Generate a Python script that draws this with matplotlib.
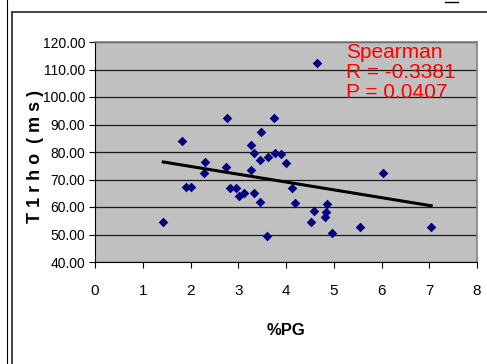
import numpy as np
import matplotlib.pyplot as plt
from matplotlib.patches import Rectangle
from matplotlib.lines import Line2D

# %PG vs T1rho (ms)
pg = [1.43, 1.83, 1.91, 2.01, 2.29, 2.30, 2.74, 2.76, 2.83, 2.95,
      3.02, 3.11, 3.27, 3.26, 3.32, 3.34, 3.46, 3.47, 3.46, 3.60,
      3.62, 3.74, 3.78, 3.89, 3.99, 4.12, 4.18, 4.52, 4.59, 4.64,
      4.81, 4.84, 4.85, 4.97, 5.56, 6.04, 7.04]
t1rho = [54.4, 84.1, 67.2, 67.2, 72.2, 76.4, 74.4, 92.2, 66.8, 66.8,
         64.0, 65.0, 73.4, 82.5, 65.2, 79.6, 77.1, 87.2, 62.0, 49.6,
         78.3, 92.2, 79.7, 79.2, 76.1, 66.8, 61.6, 54.5, 58.7, 112.5,
         56.5, 58.1, 61.1, 50.7, 52.9, 72.2, 52.9]
x_ticks = [0, 1, 2, 3, 4, 5, 6, 7, 8]
y_ticks = [40, 50, 60, 70, 80, 90, 100, 110, 120]
stats_text = "Spearman\nR = -0.3381\nP = 0.0407"

W, H = 487, 364
fig = plt.figure(figsize=(W / 100, H / 100), dpi=100)
ax = fig.add_axes([95 / W, 1 - 262 / H, 382 / W, 220 / H])

narrow = ['Liberation Sans Narrow', 'Liberation Sans', 'DejaVu Sans']

# outer chart frame (cut off by the image edge, like the screenshot)
fig.add_artist(Rectangle((12 / W, -0.2), 1.2, 1 - 12 / H + 0.2, transform=fig.transFigure,
                         fill=False, edgecolor='#333333', linewidth=1.3))
fig.add_artist(Line2D([7 / W, 7 / W], [0, 1], transform=fig.transFigure,
                      color='black', linewidth=0.8))
fig.add_artist(Line2D([445 / W, 458 / W], [1 - 2 / H, 1 - 2 / H], transform=fig.transFigure,
                      color='black', linewidth=1))

ax.set_facecolor('#C0C0C0')
for s in ax.spines.values():
    s.set_color('#808080')
    s.set_linewidth(1.2)
ax.spines['left'].set_color('black')
ax.spines['left'].set_linewidth(0.8)
ax.spines['bottom'].set_color('black')
ax.spines['bottom'].set_linewidth(0.8)

ax.set_xlim(0, 8)
ax.set_ylim(40, 120)
ax.set_xticks(x_ticks)
ax.set_yticks(y_ticks)
ax.set_xticklabels([str(v) for v in x_ticks], family=narrow, fontsize=11)
ax.set_yticklabels(['%.2f' % v for v in y_ticks], family=narrow, fontsize=10)
ax.tick_params(direction='out', length=4, width=0.8, color='black', pad=3)
ax.tick_params(axis='x', pad=12)
ax.yaxis.grid(True, color='#1a1a1a', linewidth=0.9)
ax.set_axisbelow(True)

ax.scatter(pg, t1rho, marker='D', s=24, color='#000080', zorder=3, linewidths=0)

# linear trend line over the data range
k, b = np.polyfit(pg, t1rho, 1)
xs = np.array([min(pg), max(pg)])
ax.plot(xs, k * xs + b, color='black', linewidth=2.2, zorder=4)

ax.text(0.657, 0.995, stats_text, transform=ax.transAxes, color='#FF0000',
        fontsize=15, family='Liberation Sans', va='top', ha='left', linespacing=1.08)

ax.set_xlabel('%PG', family=narrow, fontsize=12, fontweight='bold', labelpad=18)
ax.set_ylabel('T 1 r h o  ( m s )', family='Liberation Sans', fontsize=13,
              fontweight='bold')
ax.yaxis.set_label_coords(-0.134, 0.48)

plt.savefig('out.png', dpi=100)
plt.close()
